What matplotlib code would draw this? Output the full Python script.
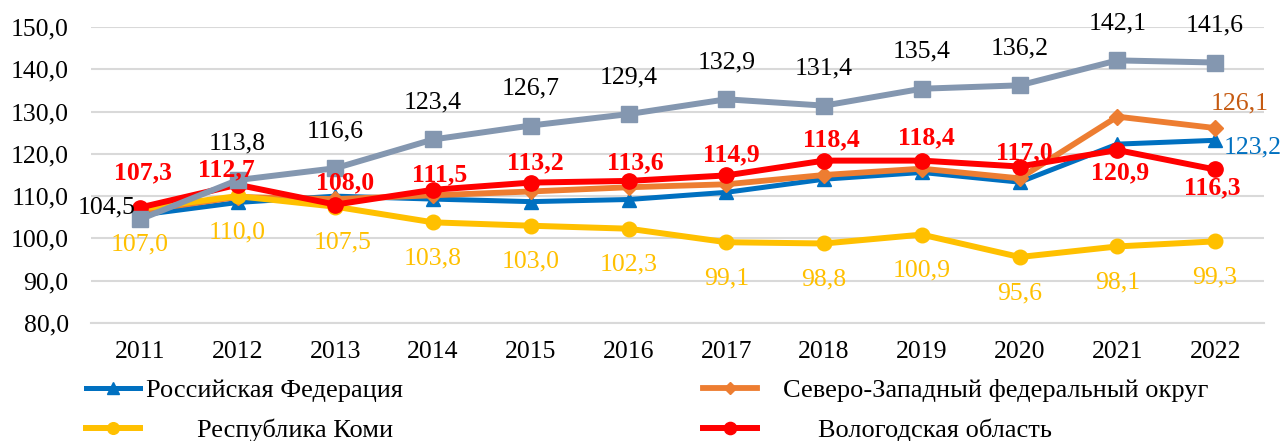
import numpy as np
import matplotlib
matplotlib.use('Agg')
import matplotlib.pyplot as plt

plt.rcParams['font.family'] = ['Liberation Serif', 'DejaVu Serif']

years = ['2011', '2012', '2013', '2014', '2015', '2016', '2017', '2018', '2019', '2020', '2021', '2022']

# индексы по рядам
rf = [105.5, 108.5, 110.0, 109.3, 108.7, 109.2, 110.9, 114.0, 115.6, 113.3, 122.3, 123.2]
szfo = [106.5, 109.8, 109.3, 110.2, 111.1, 112.1, 112.8, 115.0, 116.5, 114.2, 128.8, 126.1]
komi = [107.0, 110.0, 107.5, 103.8, 103.0, 102.3, 99.1, 98.8, 100.9, 95.6, 98.1, 99.3]
vologda = [107.3, 112.7, 108.0, 111.5, 113.2, 113.6, 114.9, 118.4, 118.4, 117.0, 120.9, 116.3]
gray = [104.5, 113.8, 116.6, 123.4, 126.7, 129.4, 132.9, 131.4, 135.4, 136.2, 142.1, 141.6]

legend_labels = ['Российская Федерация', 'Северо-Западный федеральный округ',
                 'Республика Коми', 'Вологодская область']

c_blue = '#0070C0'
c_orange = '#ED7D31'
c_yellow = '#FFC000'
c_red = '#FF0000'
c_gray = '#8497B0'

def fmt(v):
    return f'{v:.1f}'.replace('.', ',')

fig = plt.figure(figsize=(12.83, 4.41), dpi=100)
ax = fig.add_axes([0.0709, 0.2676, 0.9143, 0.6712])

x = np.arange(len(years))
l_rf, = ax.plot(x, rf, color=c_blue, lw=3.6, marker='^', ms=10, zorder=3)
l_sz, = ax.plot(x, szfo, color=c_orange, lw=4.2, marker='D', ms=8, zorder=4)
l_komi, = ax.plot(x, komi, color=c_yellow, lw=4.3, marker='o', ms=10.5, zorder=5)
l_vol, = ax.plot(x, vologda, color=c_red, lw=4.3, marker='o', ms=11, zorder=6)
l_gray, = ax.plot(x, gray, color=c_gray, lw=4.3, marker='s', ms=11, zorder=7)

fs = 18.5

# подписи серого ряда
for i, v in enumerate(gray):
    off = (0, 37)
    if i == 0:
        off = (-33, 12)
    ax.annotate(fmt(v), (x[i], v), xytext=off, textcoords='offset pixels',
                ha='center', va='center', fontsize=fs, color='black', zorder=10)

# Коми - снизу
for i, v in enumerate(komi):
    dx = 7 if i == 2 else 0
    ax.annotate(fmt(v), (x[i], v), xytext=(dx, -36), textcoords='offset pixels',
                ha='center', va='center', fontsize=fs, color=c_yellow, zorder=10)

# Вологодская область - жирным
red_off = [(3, 35), (-11, 15), (10, 22), (7, 15), (5, 20), (7, 18),
           (5, 21), (7, 21), (5, 23), (5, 14), (3, -23), (-3, -18)]
for i, v in enumerate(vologda):
    ax.annotate(fmt(v), (x[i], v), xytext=red_off[i], textcoords='offset pixels',
                ha='center', va='center', fontsize=fs, color=c_red,
                fontweight='bold', zorder=11)

ax.annotate(fmt(rf[-1]), (x[-1], rf[-1]), xytext=(38, -7), textcoords='offset pixels',
            ha='center', va='center', fontsize=fs, color=c_blue, zorder=10)
ax.annotate(fmt(szfo[-1]), (x[-1], szfo[-1]), xytext=(25, 25), textcoords='offset pixels',
            ha='center', va='center', fontsize=fs, color='#C55A11', zorder=10)

ax.set_xlim(-0.5, len(years) - 0.5)
ax.set_ylim(80, 150)
ax.set_yticks(np.arange(80, 151, 10))
ax.set_yticklabels([fmt(t) for t in np.arange(80, 151, 10)])
ax.set_xticks(x)
ax.set_xticklabels(years)
ax.tick_params(axis='both', length=0, labelsize=fs)
ax.tick_params(axis='y', pad=16)
ax.tick_params(axis='x', pad=13)
ax.grid(axis='y', color='#D9D9D9', lw=1.5)
ax.set_axisbelow(True)
for s in ['top', 'right', 'left']:
    ax.spines[s].set_visible(False)
ax.spines['bottom'].set_color('#D9D9D9')
ax.spines['bottom'].set_linewidth(1.5)

# легенда: четыре отдельных элемента
lfs = 19
entries = [
    (l_rf, legend_labels[0], 86, 390, 0.23),
    (l_sz, legend_labels[1], 703, 390, 1.0),
    (l_komi, legend_labels[2], 86, 430, 2.16),
    (l_vol, legend_labels[3], 703, 430, 2.3),
]
W, H = 1283, 441
for h, lab, px, py, pad in entries:
    fig.legend([h], [lab], loc='center left', bbox_to_anchor=(px / W, 1 - py / H),
               frameon=False, fontsize=lfs, borderpad=0, borderaxespad=0,
               handlelength=2.05, handletextpad=pad, markerscale=0.8)

fig.savefig('out.png', dpi=100)
